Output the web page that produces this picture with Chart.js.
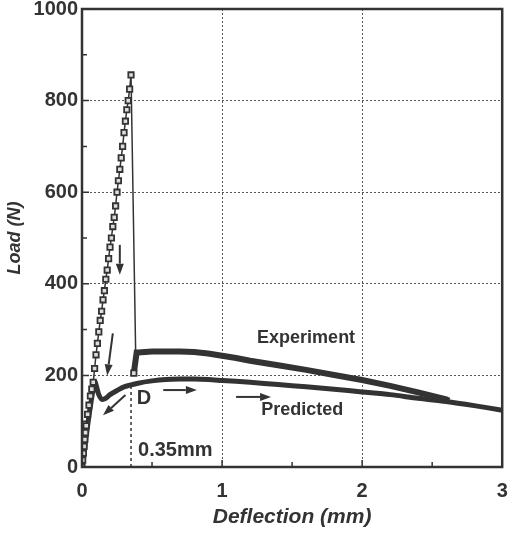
<!DOCTYPE html>
<html>
<head>
<meta charset="utf-8">
<script src="https://cdn.jsdelivr.net/npm/chart.js@4"></script>
<style>
  html, body { margin: 0; padding: 0; background: #fff; }
  #wrap { width: 508px; height: 534px; }
</style>
</head>
<body>
<div id="wrap"><canvas id="c" width="508" height="534"></canvas></div>
<script>
// data
const expX = [0, 0.005, 0.01, 0.015, 0.02, 0.025, 0.03, 0.04, 0.05, 0.06, 0.07, 0.08, 0.09, 0.10, 0.11, 0.12, 0.13, 0.14, 0.15, 0.16, 0.17, 0.18, 0.19, 0.20, 0.21, 0.22, 0.23, 0.24, 0.25, 0.26, 0.27, 0.28, 0.29, 0.30, 0.31, 0.32, 0.33, 0.34, 0.35,
  0.385, 0.37, 0.39, 0.4, 0.5, 0.6, 0.7, 0.8, 0.9, 1.0, 1.1, 1.2, 1.4, 1.6, 1.8, 2.0, 2.2, 2.4, 2.6, 2.62];
const expY = [0, 15, 30, 45, 60, 75, 90, 115, 135, 155, 170, 185, 215, 245, 270, 295, 320, 340, 365, 385, 410, 430, 455, 480, 500, 525, 545, 570, 600, 625, 650, 675, 700, 730, 755, 780, 800, 825, 856,
  215, 205, 250, 250, 252, 252, 252, 251, 248, 243, 238, 232, 222, 212, 201, 190, 177, 163, 148, 145];
const predX = [0, 0.09, 0.12, 0.14, 0.17, 0.2, 0.25, 0.3, 0.4, 0.5, 0.6, 0.7, 0.8, 0.9, 1.0, 1.2, 1.4, 1.6, 1.8, 2.0, 2.2, 2.4, 2.6, 2.8, 3.0];
const predY = [0, 185, 158, 148, 150, 158, 167, 175, 183, 188, 191, 192, 192, 191, 189, 185, 180, 175, 170, 164, 158, 150, 143, 134, 124];
const xTicks = [0, 1, 2, 3];
const yTicks = [0, 200, 400, 600, 800, 1000];
const peakIndex = 38; // last square marker (peak)

// annotations (data coords)
const arrows = [
  [0.27, 485, 0.27, 420],
  [0.22, 292, 0.18, 200],
  [0.31, 157, 0.15, 113],
  [0.58, 168, 0.82, 168],
  [1.1, 153, 1.35, 153]
];
const labels = [
  { text: 'Experiment', x: 1.25, y: 282, size: 18 },
  { text: 'Predicted', x: 1.28, y: 124, size: 18 },
  { text: 'D', x: 0.39, y: 150, size: 20 },
  { text: '0.35mm', x: 0.4, y: 37, size: 20 }
];
const dLine = { x: 0.35, y0: 0, y1: 175 };

const ink = '#333';
const toPts = (xs, ys) => xs.map((x, i) => ({ x, y: ys[i] }));

const decor = {
  id: 'decor',
  beforeDatasetsDraw(chart) {
    const { ctx, scales: { x, y } } = chart;
    ctx.save();
    // dashed marker line at 0.35
    ctx.strokeStyle = ink;
    ctx.lineWidth = 1.5;
    ctx.setLineDash([3, 3]);
    ctx.beginPath();
    ctx.moveTo(x.getPixelForValue(dLine.x), y.getPixelForValue(dLine.y0));
    ctx.lineTo(x.getPixelForValue(dLine.x), y.getPixelForValue(dLine.y1));
    ctx.stroke();
    ctx.restore();
  },
  afterDatasetsDraw(chart) {
    const { ctx, chartArea: a, scales: { x, y } } = chart;
    ctx.save();
    // frame
    ctx.strokeStyle = ink;
    ctx.lineWidth = 2.5;
    ctx.strokeRect(a.left, a.top, a.right - a.left, a.bottom - a.top);
    // inward ticks, major + minor
    ctx.lineWidth = 1.5;
    ctx.beginPath();
    for (let v = 0; v <= 3; v += 0.5) {
      const px = x.getPixelForValue(v);
      const len = (v % 1 === 0) ? 7 : 5;
      ctx.moveTo(px, a.bottom); ctx.lineTo(px, a.bottom - len);
    }
    for (let v = 0; v <= 1000; v += 100) {
      const py = y.getPixelForValue(v);
      const len = (v % 200 === 0) ? 7 : 5;
      ctx.moveTo(a.left, py); ctx.lineTo(a.left + len, py);
    }
    ctx.stroke();
    // arrows
    ctx.fillStyle = ink;
    ctx.lineWidth = 2;
    arrows.forEach(([x0, y0, x1, y1]) => {
      const p0 = [x.getPixelForValue(x0), y.getPixelForValue(y0)];
      const p1 = [x.getPixelForValue(x1), y.getPixelForValue(y1)];
      const ang = Math.atan2(p1[1] - p0[1], p1[0] - p0[0]);
      const hl = 11, hw = 4;
      const bx = p1[0] - hl * Math.cos(ang), by = p1[1] - hl * Math.sin(ang);
      ctx.beginPath();
      ctx.moveTo(p0[0], p0[1]); ctx.lineTo(bx, by);
      ctx.stroke();
      ctx.beginPath();
      ctx.moveTo(p1[0], p1[1]);
      ctx.lineTo(bx + hw * Math.sin(ang), by - hw * Math.cos(ang));
      ctx.lineTo(bx - hw * Math.sin(ang), by + hw * Math.cos(ang));
      ctx.closePath();
      ctx.fill();
    });
    // text labels
    ctx.textAlign = 'left';
    ctx.textBaseline = 'middle';
    labels.forEach(l => {
      ctx.font = `bold ${l.size}px "Liberation Sans", Arial, sans-serif`;
      ctx.fillText(l.text, x.getPixelForValue(l.x), y.getPixelForValue(l.y));
    });
    ctx.restore();
  }
};

const gridColor = (ctx) => {
  const v = ctx.tick && ctx.tick.value;
  return (v === 0 || v === 3 || v === 1000) ? 'rgba(0,0,0,0)' : '#555';
};
const tickFont = { family: '"Liberation Sans", Arial', size: 20, weight: 'bold' };

new Chart(document.getElementById('c'), {
  type: 'scatter',
  data: {
    datasets: [
      {
        label: 'Experiment',
        data: toPts(expX, expY),
        showLine: true,
        borderColor: ink,
        backgroundColor: '#fff',
        pointStyle: 'rect',
        pointRadius: (c) => c.dataIndex <= peakIndex || c.dataIndex === peakIndex + 2 ? 3.8 : 0,
        pointBorderWidth: 1.8,
        pointBorderColor: ink,
        pointBackgroundColor: '#ddd',
        borderWidth: 1.5,
        segment: {
          borderWidth: (s) => s.p0DataIndex >= peakIndex + 2 ? 6 : 1.5
        }
      },
      {
        label: 'Predicted',
        data: toPts(predX, predY),
        showLine: true,
        borderColor: ink,
        borderWidth: 5,
        pointRadius: 0,
        tension: 0.3
      }
    ]
  },
  options: {
    responsive: false,
    animation: false,
    layout: { padding: { left: 0, right: 5, top: 9, bottom: 0 } },
    plugins: { legend: { display: false }, tooltip: { enabled: false } },
    scales: {
      x: {
        type: 'linear', min: 0, max: 3,
        afterBuildTicks: (s) => { s.ticks = xTicks.map(v => ({ value: v })); },
        afterFit: (s) => { s.height = 67; s.paddingLeft = 0; s.paddingRight = 0; },
        grid: { color: gridColor, lineWidth: 1, drawTicks: false },
        border: { display: false, dash: [2, 2] },
        ticks: { color: ink, padding: 12, font: tickFont, callback: (v) => String(v) },
        title: { display: true, text: 'Deflection (mm)', color: ink, padding: { top: 0 },
          font: { family: '"Liberation Sans", Arial', size: 21, weight: 'bold', style: 'italic' } }
      },
      y: {
        type: 'linear', min: 0, max: 1000,
        afterBuildTicks: (s) => { s.ticks = yTicks.map(v => ({ value: v })); },
        afterFit: (s) => { s.width = 82; s.paddingTop = 0; s.paddingBottom = 0; },
        grid: { color: gridColor, lineWidth: 1, drawTicks: false },
        border: { display: false, dash: [2, 2] },
        ticks: { color: ink, padding: 4, font: tickFont, callback: (v) => String(v) },
        title: { display: true, text: 'Load (N)', color: ink, padding: { bottom: 2 },
          font: { family: '"Liberation Sans", Arial', size: 18, weight: 'bold', style: 'italic' } }
      }
    }
  },
  plugins: [decor]
});
</script>
</body>
</html>
